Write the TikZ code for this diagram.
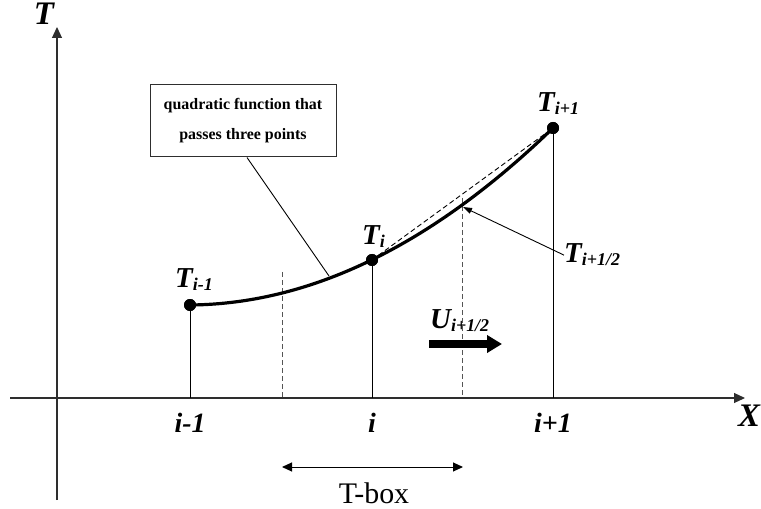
\documentclass[tikz,border=0pt]{standalone}
\usepackage{fontspec}
\setmainfont{Liberation Serif}
\usetikzlibrary{arrows.meta,positioning,calc}
\usepackage{xcolor}
\definecolor{AxisGray}{HTML}{2E2E2E}
\definecolor{DashGray}{HTML}{555555}
\newcommand{\bigT}[2]{{\fontsize{29}{29}\selectfont #1}{\fontsize{18}{18}\selectfont\raisebox{-3bp}{#2}}}

\begin{document}
\begin{tikzpicture}[x=1bp,y=-1bp,
  every node/.style={inner sep=0pt},
  axis/.style={draw=AxisGray,line width=1.1bp,-{Triangle[length=11bp,width=10bp]}},
  guide/.style={draw=black,line width=0.9bp},
  cellline/.style={draw=DashGray,line width=1bp,dash pattern=on 5bp off 3bp},
  dot/.style={circle,fill=black,minimum size=12bp},
  lab/.style={font=\fontsize{33}{33}\selectfont\bfseries\itshape,anchor=base},
  note/.style={draw=AxisGray,line width=1bp,align=center,minimum width=186bp,minimum height=72bp,
    font=\fontsize{16}{30}\selectfont\bfseries}]
  \useasboundingbox (0,0) rectangle (761,509);
  \coordinate (xs) at (10,398); \coordinate (xe) at (745,398);
  \coordinate (ts) at (57,500); \coordinate (te) at (57,27);
  \draw[axis] (xs) -- (xe);
  \draw[axis] (ts) -- (te);
  \node[lab] (tax) at (44,25) {T};
  \node[lab] (xax) at (749,426) {X};
  \foreach \n/\x/\y/\t in {0/190/305/i-1,1/372/260/i,2/553/128/i+1}{
    \node[dot] (p\n) at (\x,\y) {};
    \coordinate (g\n) at (\x,398);
    \draw[guide] (p\n.center) -- (g\n);
    \node[lab,font=\fontsize{28}{28}\selectfont\bfseries\itshape] (x\n) at (\x,432) {\t};
  }
  \foreach \n/\x/\y in {0/282/272,1/462/198}{
    \coordinate (c\n) at (\x,\y);
    \coordinate (b\n) at (\x,398);
    \draw[cellline] (c\n) -- (b\n);
  }
  \draw[line width=3.2bp] plot[domain=0:2,samples=50,smooth] ({190+181.5*\x},{398-(93+1.5*\x+43.5*\x*\x)});
  \draw[line width=0.9bp,dash pattern=on 5bp off 3bp] (p1.center) -- (p2.center);
  \node[dot] at (p0) {}; \node[dot] at (p1) {}; \node[dot] at (p2) {};
  \node[anchor=base west,font=\bfseries\itshape] (tm) at (175,288) {\bigT{T}{i-1}};
  \node[anchor=base west,font=\bfseries\itshape] (tc) at (362,245) {\bigT{T}{i}};
  \node[anchor=base west,font=\bfseries\itshape] (tp) at (537,112) {\bigT{T}{i+1}};
  \node[anchor=base west,font=\bfseries\itshape] (th) at (564,263) {\bigT{T}{i+1/2}};
  \coordinate (hm) at (463,207);
  \draw[line width=0.9bp,-{Triangle[length=9bp,width=6bp]}] (th.west) -- (hm);
  \node[note] (box) at (243,121) {quadratic function that\\passes three points};
  \coordinate (cq) at (329,276);
  \draw[line width=0.9bp] ([xshift=4bp]box.south) -- (cq);
  \node[anchor=base west,font=\bfseries\itshape] (uh) at (430,328) {\bigT{U}{i+1/2}};
  \coordinate (u0) at (429,344); \coordinate (u1) at (502,344);
  \draw[line width=8bp,-{Triangle[length=15bp,width=17bp]}] (u0) -- (u1);
  \coordinate (tb0) at (282,467); \coordinate (tb1) at (463,467);
  \draw[line width=1bp,{Triangle[length=10bp,width=9bp]}-{Triangle[length=10bp,width=9bp]}] (tb0) -- (tb1);
  \node[anchor=base,font=\fontsize{30}{30}\selectfont] (tbox) at (374,503) {T-box};
\end{tikzpicture}
\end{document}
